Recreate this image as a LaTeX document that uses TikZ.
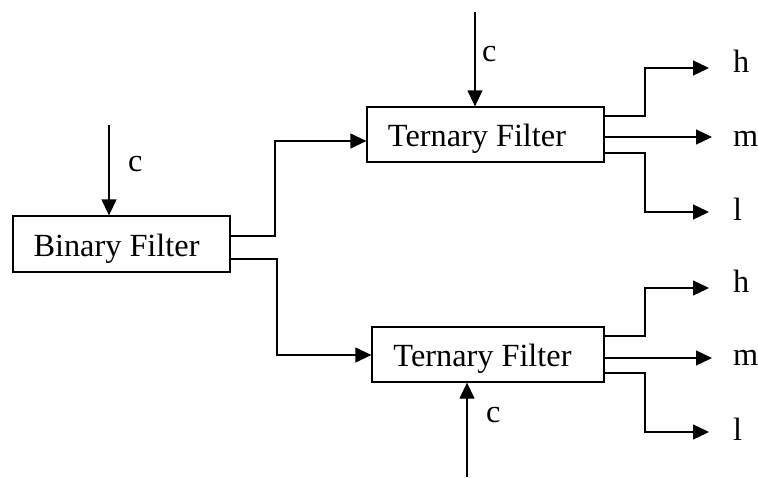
\documentclass[tikz,border=0pt]{standalone}
\usepackage{fontspec}
\setmainfont{Liberation Serif}
\usetikzlibrary{arrows.meta,calc}
\begin{document}
\begin{tikzpicture}[x=1pt,y=-1pt,
  every node/.style={font=\fontsize{32.3}{36}\selectfont},
  box/.style={draw,line width=1.3pt,inner sep=0pt,text height=24pt,text depth=0pt},
  lab/.style={anchor=base west,inner sep=0pt},
  arr/.style={line width=1.3pt,-{Triangle[length=16pt,width=15pt]}},
  ln/.style={line width=1.3pt}]
\useasboundingbox (0,0) rectangle (758,477);
% boxes
\node[box,minimum width=217pt,minimum height=56pt] (bf) at (121.5,244) {\hspace*{-10pt}Binary Filter};
\node[box,minimum width=237pt,minimum height=55pt] (t1) at (485.5,134.5) {\hspace*{-17pt}Ternary Filter};
\node[box,minimum width=232pt,minimum height=55pt] (t2) at (488,354.5) {\hspace*{-11pt}Ternary Filter};
% control inputs
\coordinate (cb) at (109,125);
\coordinate (c1) at (475,12);
\coordinate (c2) at (467,477);
\draw[arr] (cb) -- (cb |- bf.north);
\draw[arr] (c1) -- (c1 |- t1.north);
\draw[arr] (c2) -- (c2 |- t2.south);
\node[lab] (lcb) at (128,171) {c};
\node[lab] (lc1) at (482,61) {c};
\node[lab] (lc2) at (486,422) {c};
% binary -> ternary
\draw[arr] ($(bf.east)+(-2,-8)$) -- (275,236) |- ($(t1.west)+(0,6.5)$);
\draw[arr] ($(bf.east)+(0,15)$) -- (277,259) |- ($(t2.west)+(0,0.5)$);
% outputs of t1
\coordinate (h1) at (709,68);
\coordinate (m1) at (712,137);
\coordinate (l1) at (709,212);
\draw[arr] ($(t1.east)+(0,-18.5)$) -- (645,116) |- (h1);
\draw[arr] (t1.east |- m1) -- (m1);
\draw[arr] ($(t1.east)+(0,18.5)$) -- (645,153) |- (l1);
\node[lab] (th1) at (733,72) {h};
\node[lab] (tm1) at (733,146) {m};
\node[lab] (tl1) at (733,220) {l};
% outputs of t2
\coordinate (h2) at (709,288);
\coordinate (m2) at (712,358);
\coordinate (l2) at (709,432);
\draw[arr] ($(t2.east)+(0,-18.5)$) -- (645,336) |- (h2);
\draw[arr] (t2.east |- m2) -- (m2);
\draw[arr] ($(t2.east)+(0,18.5)$) -- (645,373) |- (l2);
\node[lab] (th2) at (733,292) {h};
\node[lab] (tm2) at (733,365) {m};
\node[lab] (tl2) at (733,440) {l};
\end{tikzpicture}
\end{document}
